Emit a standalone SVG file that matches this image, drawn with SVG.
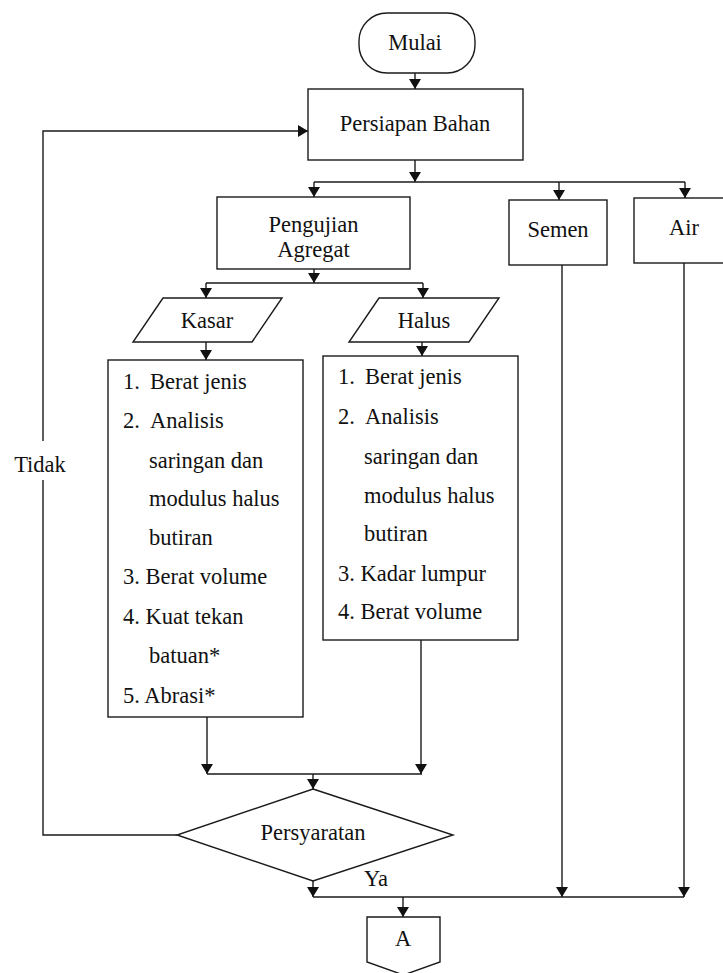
<svg xmlns="http://www.w3.org/2000/svg" width="723" height="973" viewBox="0 0 723 973">
<defs>
<style>
.s{fill:#fff;stroke:#1a1a1a;stroke-width:1.4}
.c{fill:none;stroke:#1a1a1a;stroke-width:1.4}
.a{fill:none;stroke:#1a1a1a;stroke-width:1.4;marker-end:url(#ah)}
text{font-family:'Liberation Serif','Times New Roman',serif;font-size:22.5px;fill:#111}
.m{text-anchor:middle}
</style>
<marker id="ah" markerWidth="10" markerHeight="12" viewBox="0 0 10 12" refX="10" refY="6" orient="auto" markerUnits="userSpaceOnUse">
<path d="M0,0 L10,6 L0,12 Z" fill="#111"/>
</marker>
</defs>
<rect width="723" height="973" fill="#fff"/>
<g id="connectors">
<line class="a" x1="415" y1="73" x2="415" y2="89"/>
<line class="a" x1="415" y1="160" x2="415" y2="182"/>
<line class="c" x1="314" y1="182" x2="685" y2="182"/>
<line class="a" x1="314" y1="182" x2="314" y2="197"/>
<line class="a" x1="559" y1="182" x2="559" y2="200"/>
<line class="a" x1="685" y1="182" x2="685" y2="198"/>
<line class="a" x1="314" y1="269" x2="314" y2="283"/>
<line class="c" x1="206" y1="283" x2="423" y2="283"/>
<line class="a" x1="206" y1="283" x2="206" y2="298"/>
<line class="a" x1="423" y1="283" x2="423" y2="298"/>
<line class="a" x1="206" y1="342" x2="206" y2="360"/>
<line class="a" x1="422" y1="342" x2="422" y2="356"/>
<line class="a" x1="207" y1="717" x2="207" y2="774"/>
<line class="a" x1="421" y1="640" x2="421" y2="774"/>
<line class="c" x1="207" y1="774" x2="422" y2="774"/>
<line class="a" x1="313" y1="774" x2="313" y2="789"/>
<line class="a" x1="313" y1="881" x2="313" y2="897"/>
<line class="c" x1="313" y1="897" x2="684" y2="897"/>
<line class="a" x1="562" y1="265" x2="562" y2="897"/>
<line class="a" x1="684" y1="263" x2="684" y2="897"/>
<line class="a" x1="403" y1="897" x2="403" y2="917"/>
<polyline class="c" points="177,835 43,835 43,480"/>
<polyline class="a" points="43,441 43,131 308,131"/>
<text class="m" x="40" y="472">Tidak</text>
<text class="m" x="376" y="886">Ya</text>
</g>
<g id="mulai">
<rect class="s" x="359" y="13" width="116" height="60" rx="28" ry="28"/>
<text class="m" x="415" y="50">Mulai</text>
</g>
<g id="persiapan">
<rect class="s" x="308" y="89" width="215" height="71"/>
<text class="m" x="415" y="131">Persiapan Bahan</text>
</g>
<g id="pengujian">
<rect class="s" x="217" y="197" width="193" height="72"/>
<text class="m" x="313.5" y="232">Pengujian</text>
<text class="m" x="313.5" y="257">Agregat</text>
</g>
<g id="semen">
<rect class="s" x="509" y="200" width="98" height="65"/>
<text class="m" x="558" y="237">Semen</text>
</g>
<g id="air">
<rect class="s" x="634" y="198" width="100" height="65"/>
<text class="m" x="684" y="235">Air</text>
</g>
<g id="kasar">
<polygon class="s" points="163,298 282,298 252,342 133,342"/>
<text class="m" x="207" y="328">Kasar</text>
</g>
<g id="halus">
<polygon class="s" points="379,298 499,298 469,342 349,342"/>
<text class="m" x="424" y="328">Halus</text>
</g>
<g id="kasar-list">
<rect class="s" x="108" y="360" width="195" height="357"/>
<text x="123" y="389">1.</text><text x="150" y="389">Berat jenis</text>
<text x="123" y="428">2.</text><text x="150" y="428">Analisis</text>
<text x="149" y="468">saringan dan</text>
<text x="149" y="506">modulus halus</text>
<text x="149" y="545">butiran</text>
<text x="123" y="584">3. Berat volume</text>
<text x="123" y="624">4. Kuat tekan</text>
<text x="149" y="663">batuan*</text>
<text x="123" y="703">5. Abrasi*</text>
</g>
<g id="halus-list">
<rect class="s" x="323" y="356" width="195" height="284"/>
<text x="338" y="384">1.</text><text x="365" y="384">Berat jenis</text>
<text x="338" y="424">2.</text><text x="365" y="424">Analisis</text>
<text x="364" y="464">saringan dan</text>
<text x="364" y="503">modulus halus</text>
<text x="364" y="541">butiran</text>
<text x="338" y="581">3. Kadar lumpur</text>
<text x="338" y="619">4. Berat volume</text>
</g>
<g id="persyaratan">
<polygon class="s" points="313,789 453,835 313,881 177,835"/>
<text class="m" x="313" y="840">Persyaratan</text>
</g>
<g id="connector-a">
<polygon class="s" points="367,917 440,917 440,962 403.5,975 367,962"/>
<text class="m" x="403" y="946">A</text>
</g>
</svg>
